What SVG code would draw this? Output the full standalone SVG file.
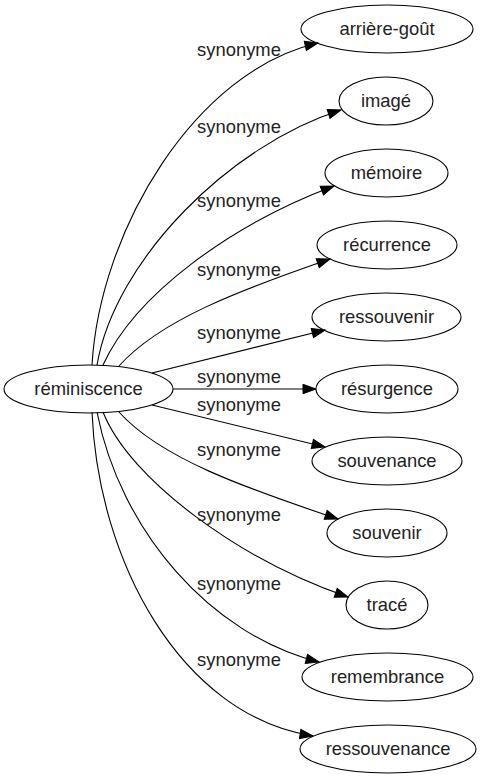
<svg xmlns="http://www.w3.org/2000/svg" width="482" height="779" viewBox="0 0 482 779">
<style>
.n ellipse{fill:none;stroke:#000;stroke-width:1.1}
text{font-family:"Liberation Sans",Arial,sans-serif;font-size:18.4px;fill:#222;text-anchor:middle}
.e path{fill:none;stroke:#000;stroke-width:1.1;marker-end:url(#a)}
</style>
<defs>
<marker id="a" markerUnits="userSpaceOnUse" markerWidth="14" markerHeight="10" refX="13" refY="4.7" orient="auto" overflow="visible">
<path d="M0,0 L13,4.7 L0,9.4 z" fill="#000" stroke="#000" stroke-width="1"/>
</marker>
</defs>
<rect width="482" height="779" fill="#fff"/>
<g id="connectors" class="e">
<path d="M92,365 C100,230 195,71 318,43"/>
<path d="M97,365 C115,260 230,145 341,110"/>
<path d="M103,365 C135,295 230,225 334,186"/>
<path d="M119,366 C160,320 240,290 330,259"/>
<path d="M152,373 L325,330"/>
<path d="M173,389 L316,389"/>
<path d="M152,405 L325,447"/>
<path d="M119,412 C160,458 245,488 338,519"/>
<path d="M103,412 C130,480 240,560 348,597"/>
<path d="M97,412 C120,530 210,635 319,662"/>
<path d="M92,412 C98,560 180,715 313,736"/>
</g>
<g id="labels">
<text x="239" y="56">synonyme</text>
<text x="239" y="133">synonyme</text>
<text x="239" y="207">synonyme</text>
<text x="239" y="276">synonyme</text>
<text x="239" y="339">synonyme</text>
<text x="239" y="383">synonyme</text>
<text x="239" y="411">synonyme</text>
<text x="239" y="456">synonyme</text>
<text x="239" y="521">synonyme</text>
<text x="239" y="590">synonyme</text>
<text x="239" y="666">synonyme</text>
</g>
<g id="reminiscence" class="n"><ellipse cx="88.5" cy="389" rx="84.5" ry="24"/><text x="88.5" y="395">réminiscence</text></g>
<g id="arriere-gout" class="n"><ellipse cx="387" cy="29" rx="86" ry="24"/><text x="387" y="35">arrière-goût</text></g>
<g id="image" class="n"><ellipse cx="386" cy="101" rx="47" ry="24"/><text x="386" y="107">imagé</text></g>
<g id="memoire" class="n"><ellipse cx="386.5" cy="173" rx="61.5" ry="24"/><text x="386.5" y="179">mémoire</text></g>
<g id="recurrence" class="n"><ellipse cx="387" cy="245" rx="70" ry="24"/><text x="387" y="251">récurrence</text></g>
<g id="ressouvenir" class="n"><ellipse cx="386.5" cy="317" rx="74.5" ry="24"/><text x="386.5" y="323">ressouvenir</text></g>
<g id="resurgence" class="n"><ellipse cx="387" cy="389" rx="71" ry="24"/><text x="387" y="395">résurgence</text></g>
<g id="souvenance" class="n"><ellipse cx="387" cy="461" rx="75" ry="24"/><text x="387" y="467">souvenance</text></g>
<g id="souvenir" class="n"><ellipse cx="387" cy="533" rx="60" ry="24"/><text x="387" y="539">souvenir</text></g>
<g id="trace" class="n"><ellipse cx="387" cy="605" rx="41" ry="24"/><text x="387" y="611">tracé</text></g>
<g id="remembrance" class="n"><ellipse cx="387.5" cy="677" rx="85.5" ry="24"/><text x="387.5" y="683">remembrance</text></g>
<g id="ressouvenance" class="n"><ellipse cx="388" cy="749" rx="88" ry="24"/><text x="388" y="755">ressouvenance</text></g>
</svg>
